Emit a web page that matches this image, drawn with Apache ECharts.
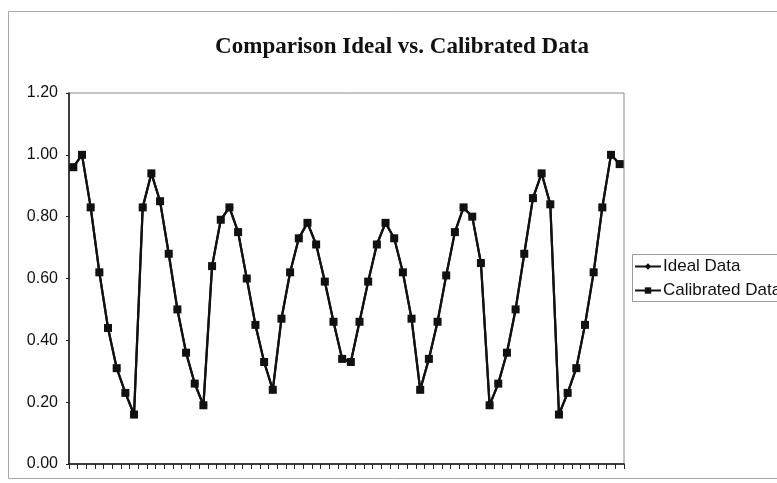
<!DOCTYPE html>
<html>
<head>
<meta charset="utf-8">
<script src="https://cdn.jsdelivr.net/npm/echarts@6/dist/echarts.min.js"></script>
<style>
  html, body { margin: 0; padding: 0; background: #fff; }
  #chart { width: 777px; height: 483px; }
</style>
</head>
<body>
<div id="chart"></div>
<script>
// Sample positions 1..64
const categories = Array.from({ length: 64 }, (_, i) => String(i + 1));

const idealValues = [
  0.96, 1.00, 0.83, 0.62, 0.44, 0.31, 0.23, 0.16,
  0.83, 0.94, 0.85, 0.68, 0.50, 0.36, 0.26, 0.19,
  0.64, 0.79, 0.83, 0.75, 0.60, 0.45, 0.33, 0.24,
  0.47, 0.62, 0.73, 0.78, 0.71, 0.59, 0.46, 0.34,
  0.33, 0.46, 0.59, 0.71, 0.78, 0.73, 0.62, 0.47,
  0.24, 0.34, 0.46, 0.61, 0.75, 0.83, 0.80, 0.65,
  0.19, 0.26, 0.36, 0.50, 0.68, 0.86, 0.94, 0.84,
  0.16, 0.23, 0.31, 0.45, 0.62, 0.83, 1.00, 0.97
];

const calibratedValues = [
  0.96, 1.00, 0.83, 0.62, 0.44, 0.31, 0.23, 0.16,
  0.83, 0.94, 0.85, 0.68, 0.50, 0.36, 0.26, 0.19,
  0.64, 0.79, 0.83, 0.75, 0.60, 0.45, 0.33, 0.24,
  0.47, 0.62, 0.73, 0.78, 0.71, 0.59, 0.46, 0.34,
  0.33, 0.46, 0.59, 0.71, 0.78, 0.73, 0.62, 0.47,
  0.24, 0.34, 0.46, 0.61, 0.75, 0.83, 0.80, 0.65,
  0.19, 0.26, 0.36, 0.50, 0.68, 0.86, 0.94, 0.84,
  0.16, 0.23, 0.31, 0.45, 0.62, 0.83, 1.00, 0.97
];

const yMin = 0, yMax = 1.2, yStep = 0.2;

const chart = echarts.init(document.getElementById('chart'), null, { renderer: 'canvas' });

chart.setOption({
  animation: false,
  backgroundColor: '#ffffff',
  title: {
    text: 'Comparison Ideal vs. Calibrated Data',
    left: 397,
    textAlign: 'center',
    top: 31,
    textStyle: {
      fontFamily: '"Liberation Serif", "DejaVu Serif", serif',
      fontWeight: 'bold',
      fontSize: 23,
      color: '#111'
    }
  },
  graphic: [
    {
      // outer chart frame
      type: 'rect',
      shape: { x: 8.5, y: 11.5, width: 800, height: 467 },
      style: { fill: 'none', stroke: '#a8a8a8', lineWidth: 1 },
      z: -1
    },
    {
      // legend frame
      type: 'rect',
      shape: { x: 632.5, y: 254.5, width: 200, height: 47 },
      style: { fill: 'none', stroke: '#9a9a9a', lineWidth: 1 },
      z: 10
    }
  ],
  legend: {
    orient: 'vertical',
    left: 634,
    top: 258,
    itemGap: 7,
    itemWidth: 26,
    itemHeight: 8,
    padding: 0,
    textStyle: {
      fontFamily: '"Liberation Sans", Arial, sans-serif',
      fontSize: 17,
      color: '#111',
      padding: [0, 0, 0, -3]
    },
    data: ['Ideal Data', 'Calibrated Data']
  },
  grid: {
    left: 69,
    right: 153,
    top: 93,
    bottom: 19,
    show: true,
    borderColor: '#8a8a8a',
    borderWidth: 1,
    backgroundColor: '#fff'
  },
  xAxis: {
    type: 'category',
    data: categories,
    boundaryGap: true,
    axisLine: { show: true, lineStyle: { color: '#111', width: 1.5 } },
    axisTick: { show: true, interval: 0, length: 5, lineStyle: { color: '#222', width: 1 } },
    axisLabel: { show: false },
    splitLine: { show: false }
  },
  yAxis: {
    type: 'value',
    min: yMin,
    max: yMax,
    interval: yStep,
    axisLine: { show: true, lineStyle: { color: '#111', width: 1.5 } },
    axisTick: { show: true, length: 3, lineStyle: { color: '#222' } },
    axisLabel: {
      margin: 11,
      fontFamily: '"Liberation Sans", Arial, sans-serif',
      fontSize: 16,
      color: '#111',
      formatter: v => v.toFixed(2)
    },
    splitLine: { show: false }
  },
  series: [
    {
      name: 'Ideal Data',
      type: 'line',
      data: idealValues,
      symbol: 'diamond',
      symbolSize: 8,
      showAllSymbol: true,
      lineStyle: { color: '#111', width: 2.2 },
      itemStyle: { color: '#111' },
      z: 2
    },
    {
      name: 'Calibrated Data',
      type: 'line',
      data: calibratedValues,
      symbol: 'rect',
      symbolSize: 8,
      showAllSymbol: true,
      lineStyle: { color: '#111', width: 2.2 },
      itemStyle: { color: '#111' },
      z: 3
    }
  ]
});
</script>
</body>
</html>
